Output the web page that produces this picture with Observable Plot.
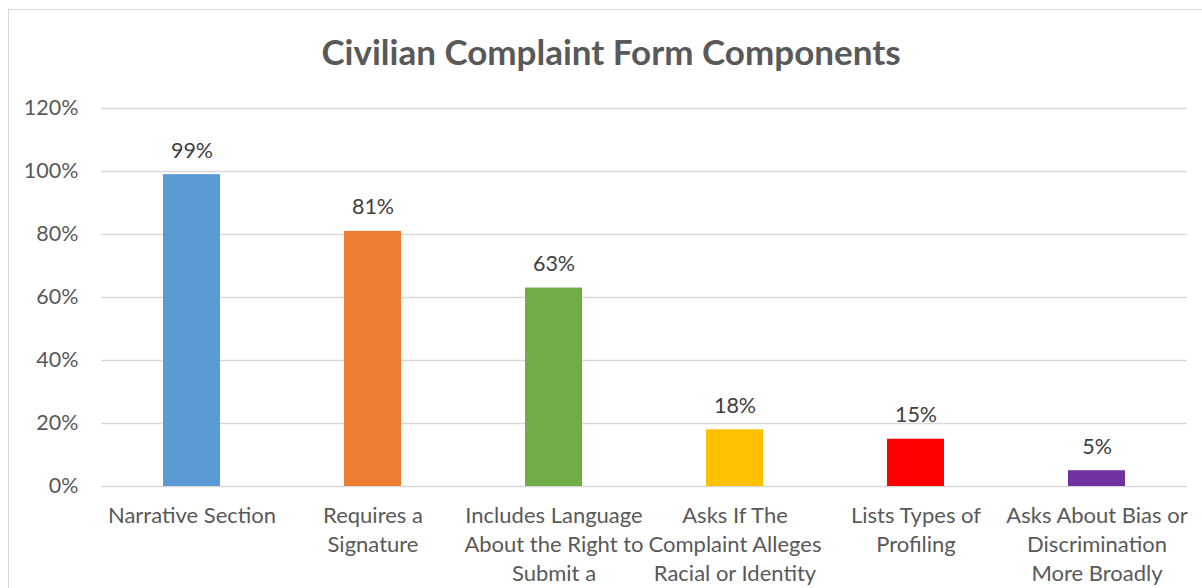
<!DOCTYPE html>
<html>
<head>
<meta charset="utf-8">
<script src="https://cdn.jsdelivr.net/npm/d3@7"></script>
<script src="https://cdn.jsdelivr.net/npm/@observablehq/plot@0.6"></script>
<style>
  html, body { margin: 0; padding: 0; background: #fff; }
  #wrap { position: relative; width: 1202px; height: 588px; overflow: hidden; background: #fff; }
  #frame { position: absolute; left: 8px; top: 9px; width: 1300px; height: 700px;
           border-left: 1.5px solid #d9d9d9; border-top: 1.5px solid #d9d9d9; box-sizing: border-box; }
  #title { position: absolute; left: 0; top: 0; width: 1222px; height: 88px; line-height: 102px;
           text-align: center; font-family: Lato, "Open Sans", sans-serif; font-weight: bold;
           font-size: 35px; color: #595959; }
  #chart { position: absolute; left: 0; top: 88px; }
</style>
</head>
<body>
<div id="wrap">
  <div id="frame"></div>
  <div id="title">Civilian Complaint Form Components</div>
  <div id="chart"></div>
</div>
<script>
const categories = [
  "Narrative Section",
  "Requires a Signature",
  "Includes Language About the Right to Submit a Complaint",
  "Asks If The Complaint Alleges Racial or Identity Profiling",
  "Lists Types of Profiling",
  "Asks About Bias or Discrimination More Broadly"
];
const tickLabels = [
  "Narrative Section",
  "Requires a\nSignature",
  "Includes Language\nAbout the Right to\nSubmit a\nComplaint",
  "Asks If The\nComplaint Alleges\nRacial or Identity\nProfiling",
  "Lists Types of\nProfiling",
  "Asks About Bias or\nDiscrimination\nMore Broadly"
];
const values = [0.99, 0.81, 0.63, 0.18, 0.15, 0.05];
const colors = ["#5B9BD5", "#ED7D31", "#70AD47", "#FFC000", "#FF0000", "#7030A0"];
const yTicks = [0, 0.2, 0.4, 0.6, 0.8, 1.0, 1.2];

const data = categories.map((c, i) => ({category: c, value: values[i], color: colors[i], label: tickLabels[i]}));
const labelOf = new Map(data.map(d => [d.category, d.label]));

const chart = Plot.plot({
  width: 1202,
  height: 500,
  marginLeft: 101,
  marginRight: 15,
  marginTop: 20,
  marginBottom: 102,
  style: {fontFamily: "Lato, 'Open Sans', sans-serif", color: "#595959", background: "transparent", overflow: "visible"},
  x: {domain: categories, paddingInner: 0.685, paddingOuter: 0.3425, align: 0.5, label: null},
  y: {domain: [0, 1.2], label: null},
  marks: [
    Plot.ruleY(yTicks, {stroke: "#d9d9d9", strokeWidth: 1.5}),
    Plot.barY(data, {x: "category", y: "value", fill: "color"}),
    Plot.text(data, {x: "category", y: "value", text: d => d3.format(".0%")(d.value),
      dy: -24, fontSize: 21.5, fill: "#404040", textAnchor: "middle"}),
    Plot.axisY({ticks: yTicks, tickFormat: d3.format(".0%"), tickSize: 0, tickPadding: 23,
      fontSize: 21.5, fill: "#595959"}),
    Plot.axisX({tickSize: 0, tickPadding: 16, tickFormat: d => labelOf.get(d),
      fontSize: 22, lineHeight: 1.32, fill: "#595959", lineAnchor: "top"})
  ]
});
document.getElementById("chart").appendChild(chart);
</script>
</body>
</html>
